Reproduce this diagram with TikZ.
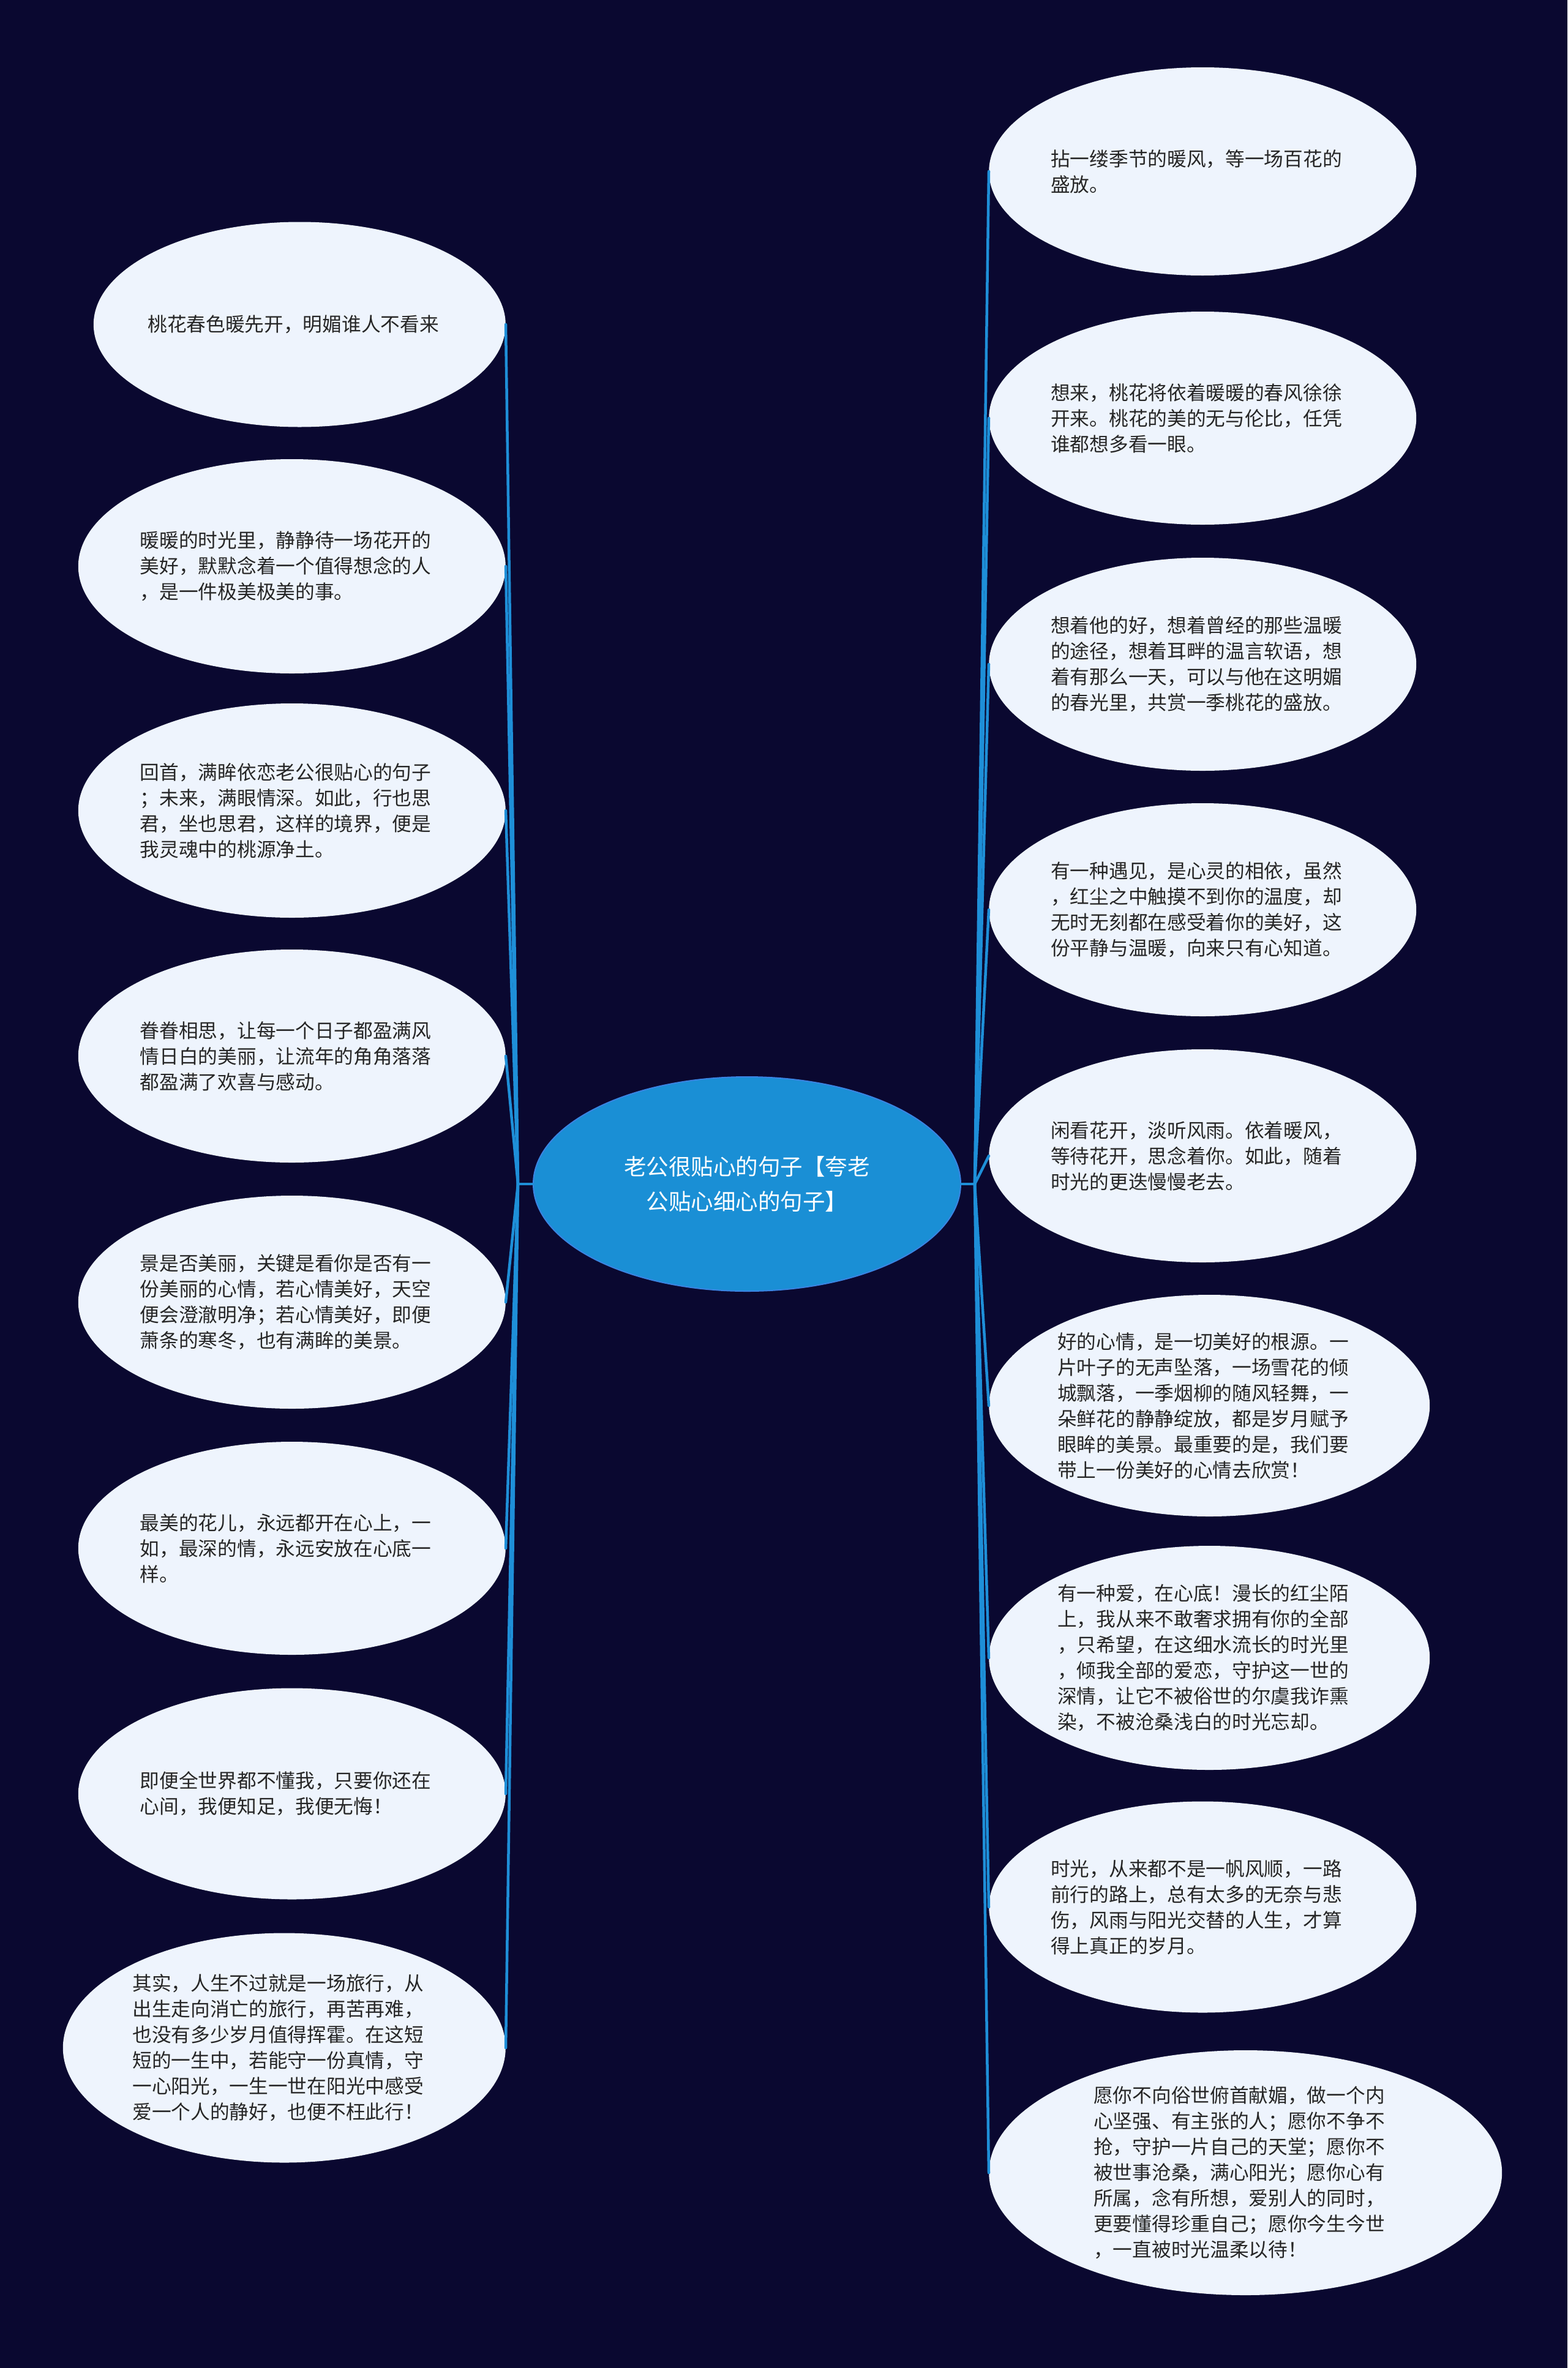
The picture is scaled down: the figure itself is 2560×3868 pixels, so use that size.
\documentclass[tikz,border=0pt]{standalone}
\usepackage{fontspec}
\newfontfamily\cjk{Noto Sans CJK SC}
\usepackage{tikz}
\usetikzlibrary{shapes.geometric}
\definecolor{bgnavy}{HTML}{0A0830}
\definecolor{bubblefill}{HTML}{EEF4FD}
\definecolor{rootfill}{HTML}{1A8FD5}
\definecolor{rootline}{HTML}{3A84E2}
\definecolor{branchblue}{HTML}{1E8FD8}
\definecolor{quotegray}{HTML}{262626}
\tikzset{
  bubble/.style={ellipse, fill=bubblefill, inner sep=0pt, minimum width=698pt, minimum height=348pt},
  quotetext/.style={font=\cjk\fontsize{31.7}{42}\selectfont, text=quotegray, text width=480pt, align=left, inner sep=0pt, xshift=-8pt},
  rootbubble/.style={ellipse, fill=rootfill, draw=rootline, line width=2pt, minimum width=698pt, minimum height=350pt},
  roottext/.style={font=\cjk\fontsize{36.5}{57}\selectfont, text=white, align=center, inner sep=0pt},
  branch/.style={draw=branchblue, line width=4.5pt, line cap=round}
}

\begin{document}
\begin{tikzpicture}[x=1pt, y=-1pt]
			%%%%% START %%%%%
			
			\fill[bgnavy] (0, 0) rectangle (2560, 3868);
			
			\node[rootbubble] (root) at (1220, 1934) {};
			\node[roottext] (roottxt) at (root.center) {老公很贴心的句子【夸老\\公贴心细心的句子】};
			\coordinate (lhub) at (846, 1934);
			\coordinate (rhub) at (1592, 1934);
			
			% left side
			\node[bubble, anchor=east, minimum width=673pt, minimum height=335pt] (l1) at (826, 530) {};
			\node[quotetext] (l1txt) at (l1.center) {桃花春色暖先开，明媚谁人不看来};
			\node[bubble, anchor=east, minimum height=350pt] (l2) at (826, 925) {};
			\node[quotetext] (l2txt) at (l2.center) {暖暖的时光里，静静待一场花开的\\美好，默默念着一个值得想念的人\\，是一件极美极美的事。};
			\node[bubble, anchor=east, minimum height=350pt] (l3) at (826, 1324) {};
			\node[quotetext] (l3txt) at (l3.center) {回首，满眸依恋老公很贴心的句子\\；未来，满眼情深。如此，行也思\\君，坐也思君，这样的境界，便是\\我灵魂中的桃源净土。};
			\node[bubble, anchor=east] (l4) at (826, 1725) {};
			\node[quotetext] (l4txt) at (l4.center) {眷眷相思，让每一个日子都盈满风\\情日白的美丽，让流年的角角落落\\都盈满了欢喜与感动。};
			\node[bubble, anchor=east] (l5) at (826, 2127) {};
			\node[quotetext] (l5txt) at (l5.center) {景是否美丽，关键是看你是否有一\\份美丽的心情，若心情美好，天空\\便会澄澈明净；若心情美好，即便\\萧条的寒冬，也有满眸的美景。};
			\node[bubble, anchor=east] (l6) at (826, 2529) {};
			\node[quotetext] (l6txt) at (l6.center) {最美的花儿，永远都开在心上，一\\如，最深的情，永远安放在心底一\\样。};
			\node[bubble, anchor=east, minimum height=345pt] (l7) at (826, 2930) {};
			\node[quotetext] (l7txt) at (l7.center) {即便全世界都不懂我，只要你还在\\心间，我便知足，我便无悔！};
			\node[bubble, anchor=east, minimum width=723pt, minimum height=375pt] (l8) at (826, 3345) {};
			\node[quotetext] (l8txt) at (l8.center) {其实，人生不过就是一场旅行，从\\出生走向消亡的旅行，再苦再难，\\也没有多少岁月值得挥霍。在这短\\短的一生中，若能守一份真情，守\\一心阳光，一生一世在阳光中感受\\爱一个人的静好，也便不枉此行！};
			
			% right side
			\node[bubble, anchor=west, minimum height=340pt] (r1) at (1615, 280) {};
			\node[quotetext] (r1txt) at (r1.center) {拈一缕季节的暖风，等一场百花的\\盛放。};
			\node[bubble, anchor=west] (r2) at (1615, 683) {};
			\node[quotetext] (r2txt) at (r2.center) {想来，桃花将依着暖暖的春风徐徐\\开来。桃花的美的无与伦比，任凭\\谁都想多看一眼。};
			\node[bubble, anchor=west] (r3) at (1615, 1085) {};
			\node[quotetext] (r3txt) at (r3.center) {想着他的好，想着曾经的那些温暖\\的途径，想着耳畔的温言软语，想\\着有那么一天，可以与他在这明媚\\的春光里，共赏一季桃花的盛放。};
			\node[bubble, anchor=west] (r4) at (1615, 1486) {};
			\node[quotetext] (r4txt) at (r4.center) {有一种遇见，是心灵的相依，虽然\\，红尘之中触摸不到你的温度，却\\无时无刻都在感受着你的美好，这\\份平静与温暖，向来只有心知道。};
			\node[bubble, anchor=west] (r5) at (1615, 1888) {};
			\node[quotetext] (r5txt) at (r5.center) {闲看花开，淡听风雨。依着暖风，\\等待花开，思念着你。如此，随着\\时光的更迭慢慢老去。};
			\node[bubble, anchor=west, minimum width=720pt, minimum height=362pt] (r6) at (1615, 2296) {};
			\node[quotetext] (r6txt) at (r6.center) {好的心情，是一切美好的根源。一\\片叶子的无声坠落，一场雪花的倾\\城飘落，一季烟柳的随风轻舞，一\\朵鲜花的静静绽放，都是岁月赋予\\眼眸的美景。最重要的是，我们要\\带上一份美好的心情去欣赏！};
			\node[bubble, anchor=west, minimum width=720pt, minimum height=366pt] (r7) at (1615, 2708) {};
			\node[quotetext] (r7txt) at (r7.center) {有一种爱，在心底！漫长的红尘陌\\上，我从来不敢奢求拥有你的全部\\，只希望，在这细水流长的时光里\\，倾我全部的爱恋，守护这一世的\\深情，让它不被俗世的尔虞我诈熏\\染，不被沧桑浅白的时光忘却。};
			\node[bubble, anchor=west, minimum height=345pt] (r8) at (1615, 3115) {};
			\node[quotetext] (r8txt) at (r8.center) {时光，从来都不是一帆风顺，一路\\前行的路上，总有太多的无奈与悲\\伤，风雨与阳光交替的人生，才算\\得上真正的岁月。};
			\node[bubble, anchor=west, minimum width=838pt, minimum height=400pt] (r9) at (1615, 3549) {};
			\node[quotetext] (r9txt) at (r9.center) {愿你不向俗世俯首献媚，做一个内\\心坚强、有主张的人；愿你不争不\\抢，守护一片自己的天堂；愿你不\\被世事沧桑，满心阳光；愿你心有\\所属，念有所想，爱别人的同时，\\更要懂得珍重自己；愿你今生今世\\，一直被时光温柔以待！};
			
			% branches
			\draw[branch] (root.west) -- (lhub);
			\draw[branch] (root.east) -- (rhub);
			\draw[branch] (lhub) -- (l1.east);
			\draw[branch] (lhub) -- (l2.east);
			\draw[branch] (lhub) -- (l3.east);
			\draw[branch] (lhub) -- (l4.east);
			\draw[branch] (lhub) -- (l5.east);
			\draw[branch] (lhub) -- (l6.east);
			\draw[branch] (lhub) -- (l7.east);
			\draw[branch] (lhub) -- (l8.east);
			\draw[branch] (rhub) -- (r1.west);
			\draw[branch] (rhub) -- (r2.west);
			\draw[branch] (rhub) -- (r3.west);
			\draw[branch] (rhub) -- (r4.west);
			\draw[branch] (rhub) -- (r5.west);
			\draw[branch] (rhub) -- (r6.west);
			\draw[branch] (rhub) -- (r7.west);
			\draw[branch] (rhub) -- (r8.west);
			\draw[branch] (rhub) -- (r9.west);
			
			%%%%% END %%%%%
\end{tikzpicture}
\end{document}
